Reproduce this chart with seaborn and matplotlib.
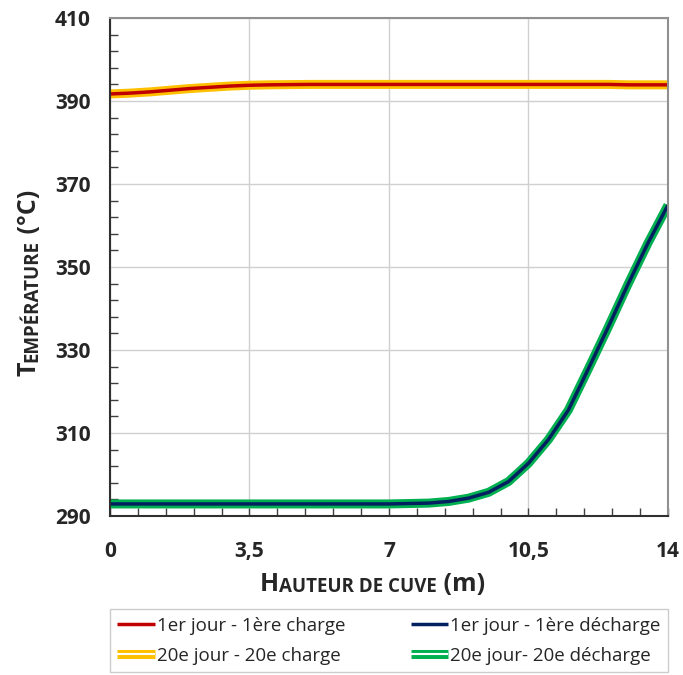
import pandas as pd
import matplotlib
matplotlib.use("Agg")
import matplotlib.pyplot as plt
import matplotlib.patheffects as pe
import seaborn as sns

# hauteur de cuve (m)
hauteur = [0, 0.5, 1, 1.5, 2, 2.5, 3, 3.5, 4, 5, 6, 7, 8, 8.5, 9, 9.5, 10, 10.5,
           11, 11.5, 12, 12.5, 13, 13.5, 14]
# temperatures (°C)
charge_j1 = [391.7, 391.9, 392.2, 392.6, 393.0, 393.3, 393.6, 393.8, 393.9, 394.0, 394.0,
             394.0, 394.0, 394.0, 394.0, 394.0, 394.0, 394.0, 394.0, 394.0, 394.0, 394.0,
             393.9, 393.9, 393.9]
charge_j20 = [391.7, 391.9, 392.2, 392.6, 393.0, 393.3, 393.6, 393.8, 393.9, 394.0, 394.0,
              394.0, 394.0, 394.0, 394.0, 394.0, 394.0, 394.0, 394.0, 394.0, 394.0, 394.0,
              393.9, 393.9, 393.9]
decharge_j1 = [292.9, 292.9, 292.9, 292.9, 292.9, 292.9, 292.9, 292.9, 292.9, 292.9, 292.9,
               292.9, 293.1, 293.5, 294.3, 295.7, 298.3, 302.7, 308.4, 315.5, 325.4, 335.5,
               345.9, 355.8, 364.9]
decharge_j20 = [292.9, 292.9, 292.9, 292.9, 292.9, 292.9, 292.9, 292.9, 292.9, 292.9, 292.9,
                292.9, 293.1, 293.5, 294.3, 295.7, 298.3, 302.7, 308.4, 315.5, 325.4, 335.5,
                345.9, 355.8, 364.9]

df = pd.DataFrame({"h": hauteur, "c1": charge_j1, "c20": charge_j20,
                   "d1": decharge_j1, "d20": decharge_j20})

sns.set_style("white")
plt.rcParams["font.family"] = ["Open Sans", "DejaVu Sans"]

fig = plt.figure(figsize=(6.83, 6.75), dpi=100)
ax = fig.add_axes([0.161, 0.2356, 0.817, 0.7377])

# double lines (20e jour) drawn under the simple ones
kw = dict(solid_joinstyle="round", solid_capstyle="butt")
sns.lineplot(data=df, x="h", y="c20", ax=ax, color="white", lw=1.5,
             label="20e jour - 20e charge", **kw,
             path_effects=[pe.Stroke(linewidth=6.5, foreground="#FFC000",
                                     joinstyle="round"), pe.Normal()])
sns.lineplot(data=df, x="h", y="d20", ax=ax, color="white", lw=1.5,
             label="20e jour- 20e décharge", **kw,
             path_effects=[pe.Stroke(linewidth=6.5, foreground="#00B050",
                                     joinstyle="round"), pe.Normal()])
sns.lineplot(data=df, x="h", y="c1", ax=ax, color="#C00000", lw=2.5,
             label="1er jour - 1ère charge", **kw)
sns.lineplot(data=df, x="h", y="d1", ax=ax, color="#002060", lw=2.5,
             label="1er jour - 1ère décharge", **kw)

ax.set_xlim(0, 14)
ax.set_ylim(290, 410)
ax.set_xticks([0, 3.5, 7, 10.5, 14])
ax.set_xticklabels(["0", "3,5", "7", "10,5", "14"])
ax.set_yticks(range(290, 411, 20))
ax.set_xticks([i * 0.7 for i in range(21)], minor=True)
ax.set_yticks(range(290, 411, 4), minor=True)
ax.grid(True, which="major", color="#d0d0d0", lw=1)
ax.tick_params(which="both", direction="in", length=6, width=1, color="#404040",
               bottom=True, left=True)
ax.tick_params(which="major", length=0, labelsize=15, pad=14)
for t in ax.get_xticklabels() + ax.get_yticklabels():
    t.set_fontweight("bold")
ax.tick_params(axis="x", which="major", length=6, direction="in", pad=18)
for s in ["left", "bottom"]:
    ax.spines[s].set_color("#303030")
    ax.spines[s].set_linewidth(1.5)
for s in ["top", "right"]:
    ax.spines[s].set_color("#909090")
    ax.spines[s].set_linewidth(1.5)
ax.set_xlabel("")
ax.set_ylabel("")

# axis titles in small caps
big, small = 18, 13.5
t1 = fig.text(260 / 683, 1 - 597 / 675, "H", fontsize=big, fontweight="bold",
              ha="left", va="bottom")
t2 = ax.annotate("AUTEUR DE CUVE", xy=(1, 0), xycoords=t1, fontsize=small,
                 fontweight="bold", ha="left", va="bottom")
ax.annotate(" (m)", xy=(1, 0), xycoords=t2, fontsize=big, fontweight="bold",
            ha="left", va="bottom")

y1 = fig.text(42 / 683, 1 - 376 / 675, "T", fontsize=big, fontweight="bold",
              rotation=90, ha="right", va="bottom")
y2 = ax.annotate("EMPÉRATURE", xy=(1, 1), xycoords=y1, fontsize=small,
                 fontweight="bold", rotation=90, ha="right", va="bottom")
ax.annotate(" (°C)", xy=(1, 1), xycoords=y2, fontsize=big, fontweight="bold",
            rotation=90, ha="right", va="bottom")

handles, labels = ax.get_legend_handles_labels()
order = [2, 0, 3, 1]
ax.get_legend().remove()
leg = fig.legend([handles[i] for i in order], [labels[i] for i in order],
                 loc="lower left", bbox_to_anchor=(0.161, 0.004, 0.817, 0.089),
                 mode="expand", ncol=2, fontsize=13.5, frameon=True, fancybox=False,
                 edgecolor="#c0c0c0", handlelength=2.0, handletextpad=0.1,
                 borderaxespad=0, labelspacing=0.65, borderpad=0.4)
leg.get_frame().set_linewidth(1)

fig.savefig("out.png", dpi=100)
